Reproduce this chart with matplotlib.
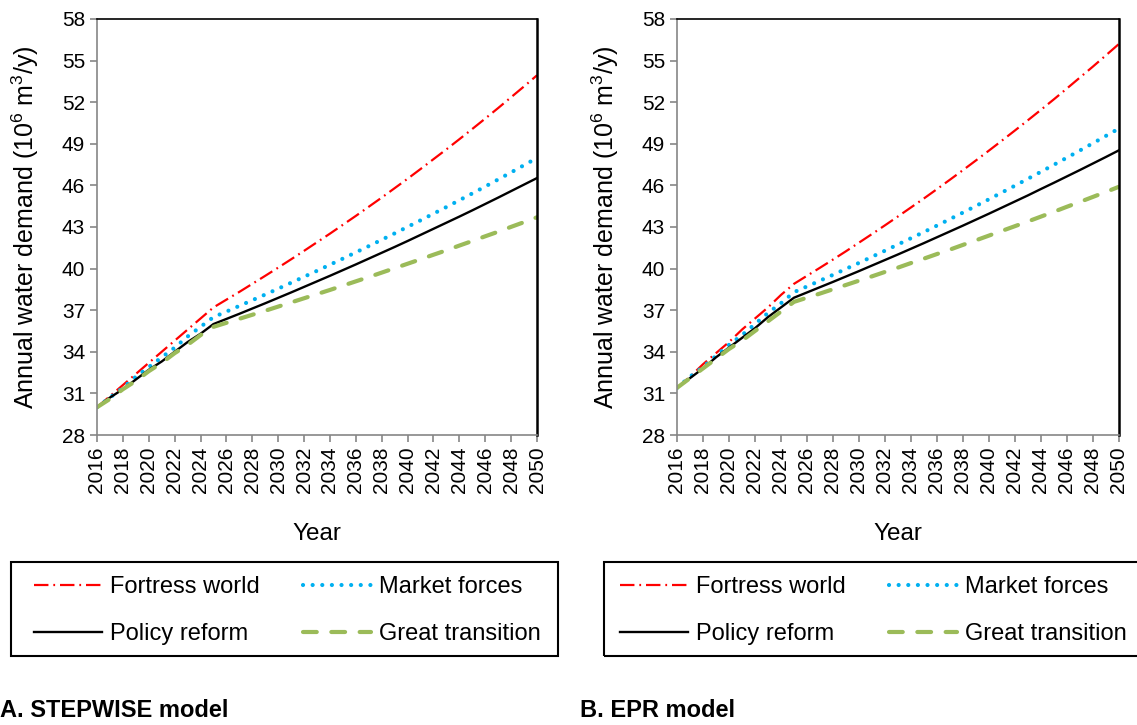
import matplotlib
matplotlib.use('Agg')
import matplotlib.pyplot as plt
from matplotlib.patches import Rectangle

plt.rcParams['font.family'] = ['Liberation Sans', 'DejaVu Sans']
plt.rcParams['mathtext.default'] = 'regular'

years = list(range(2016, 2051))

# A. STEPWISE model
step_fortress = [30.0, 30.8, 31.6, 32.4, 33.2, 34.0, 34.8, 35.6, 36.4, 37.2,
                 37.76, 38.32, 38.90, 39.48, 40.07, 40.67, 41.28, 41.90, 42.52, 43.16,
                 43.80, 44.46, 45.12, 45.80, 46.48, 47.18, 47.89, 48.60, 49.33, 50.07,
                 50.82, 51.58, 52.36, 53.14, 53.94]
step_market = [30.0, 30.7, 31.4, 32.2, 32.9, 33.6, 34.3, 35.1, 35.8, 36.5,
               36.90, 37.31, 37.72, 38.13, 38.55, 38.98, 39.41, 39.84, 40.28, 40.72,
               41.17, 41.62, 42.08, 42.54, 43.01, 43.48, 43.96, 44.44, 44.93, 45.42,
               45.92, 46.43, 46.94, 47.46, 47.98]
step_policy = [30.0, 30.7, 31.3, 32.0, 32.7, 33.3, 34.0, 34.7, 35.3, 36.0,
               36.37, 36.74, 37.12, 37.50, 37.89, 38.28, 38.68, 39.08, 39.48, 39.89,
               40.30, 40.72, 41.14, 41.56, 41.99, 42.43, 42.87, 43.31, 43.75, 44.20,
               44.66, 45.12, 45.59, 46.06, 46.53]
step_great = [30.0, 30.6, 31.3, 31.9, 32.6, 33.2, 33.9, 34.5, 35.2, 35.8,
              36.09, 36.38, 36.67, 36.96, 37.26, 37.56, 37.86, 38.16, 38.46, 38.77,
              39.08, 39.39, 39.71, 40.03, 40.35, 40.67, 41.00, 41.32, 41.66, 41.99,
              42.33, 42.66, 43.01, 43.35, 43.70]

# B. EPR model
epr_fortress = [31.4, 32.2, 33.1, 33.9, 34.7, 35.6, 36.4, 37.2, 38.1, 38.9,
                39.48, 40.06, 40.65, 41.25, 41.87, 42.49, 43.12, 43.76, 44.41, 45.06,
                45.73, 46.41, 47.10, 47.80, 48.51, 49.23, 49.96, 50.70, 51.45, 52.21,
                52.99, 53.78, 54.57, 55.38, 56.20]
epr_market = [31.4, 32.2, 32.9, 33.7, 34.5, 35.2, 36.0, 36.8, 37.5, 38.3,
              38.71, 39.13, 39.55, 39.98, 40.41, 40.85, 41.29, 41.74, 42.19, 42.64,
              43.10, 43.57, 44.04, 44.52, 45.00, 45.49, 45.98, 46.48, 46.98, 47.49,
              48.00, 48.52, 49.04, 49.57, 50.10]
epr_policy = [31.4, 32.1, 32.8, 33.6, 34.3, 35.0, 35.7, 36.5, 37.2, 37.9,
              38.28, 38.66, 39.04, 39.43, 39.82, 40.22, 40.62, 41.02, 41.43, 41.84,
              42.26, 42.68, 43.10, 43.53, 43.96, 44.40, 44.84, 45.28, 45.74, 46.19,
              46.65, 47.11, 47.58, 48.05, 48.53]
epr_great = [31.4, 32.1, 32.8, 33.5, 34.2, 34.8, 35.5, 36.2, 36.9, 37.6,
             37.90, 38.20, 38.51, 38.82, 39.13, 39.44, 39.76, 40.07, 40.40, 40.72,
             41.05, 41.37, 41.71, 42.04, 42.38, 42.72, 43.06, 43.40, 43.75, 44.10,
             44.46, 44.81, 45.17, 45.53, 45.90]

x_ticks = list(range(2016, 2051, 2))
y_ticks = list(range(28, 59, 3))
panel_titles = ['A. STEPWISE model', 'B. EPR model']

W, H = 1137, 725
fig = plt.figure(figsize=(W / 100, H / 100), dpi=100)
ax_a = fig.add_axes([0.0853, 0.40, 0.387, 0.5738])
ax_b = fig.add_axes([0.5954, 0.40, 0.3887, 0.5738])

grey = '#868686'
# (axes, series..., legend frame [x0, top, x1, bottom] px, legend anchor x px)
panels = [
    (ax_a, step_fortress, step_market, step_policy, step_great, (11, 562, 558, 656), 34),
    (ax_b, epr_fortress, epr_market, epr_policy, epr_great, (604, 562, 1150, 656), 620),
]

for ax, fw, mf, pr, gt, frame_px, leg_x in panels:
    l1, = ax.plot(years, fw, color='#FF0000', lw=1.6, dashes=(6.5, 2.2, 0.8, 2.2),
                  label='Fortress world')
    l2, = ax.plot(years, mf, color='#00B0F0', lw=3, dashes=(0.01, 2.3),
                  dash_capstyle='round', label='Market forces')
    l3, = ax.plot(years, pr, color='black', lw=1.7, label='Policy reform')
    l4, = ax.plot(years, gt, color='#9BBB59', lw=3, dashes=(3.3, 3.5),
                  dash_capstyle='round', label='Great transition')

    ax.set_xlim(2016, 2050)
    ax.set_ylim(28, 58)
    ax.set_xticks(x_ticks)
    ax.set_xticklabels([str(y) for y in x_ticks], rotation=90)
    ax.set_yticks(y_ticks)
    ax.tick_params(labelsize=15, color=grey, length=5, width=1.2, direction='out')
    for side in ['left', 'bottom']:
        ax.spines[side].set_color(grey)
        ax.spines[side].set_linewidth(1.2)
    ax.spines['top'].set_color('black')
    ax.spines['top'].set_linewidth(1.2)
    ax.spines['right'].set_color('black')
    ax.spines['right'].set_linewidth(1.8)
    ax.set_xlabel('Year', fontsize=17.5, labelpad=21)
    ax.set_ylabel('Annual water demand (10$^{6}$ m$^{3}$/y)', fontsize=18, labelpad=15)

    # legend frame drawn as a plain rectangle
    x0, top, x1, bottom = frame_px
    fig.patches.append(Rectangle((x0 / W, 1 - bottom / H), (x1 - x0) / W, (bottom - top) / H,
                                 transform=fig.transFigure, fill=False,
                                 edgecolor='black', linewidth=1.5))

    # row 1: Fortress / Market, row 2: Policy / Great (legend fills by column)
    fig.legend(handles=[l1, l3, l2, l4], loc='upper left',
               bbox_to_anchor=(leg_x / W, 1 - 576 / H), bbox_transform=fig.transFigure,
               ncol=2, fontsize=17, frameon=False, handlelength=2.9,
               handletextpad=0.34, columnspacing=1.8, borderaxespad=0,
               borderpad=0, labelspacing=1.05)

fig.text(0.0, 0.011, panel_titles[0], fontsize=17, fontweight='bold')
fig.text(580 / W, 0.011, panel_titles[1], fontsize=17, fontweight='bold')

fig.savefig('out.png', dpi=100)
